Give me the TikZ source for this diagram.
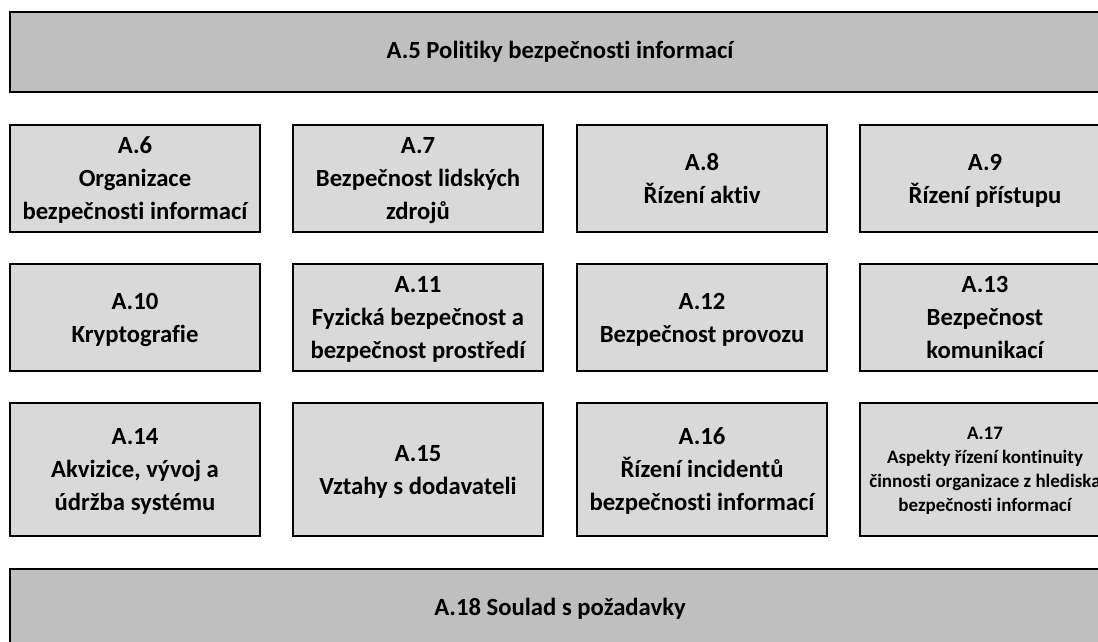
\documentclass[tikz,border=0pt]{standalone}
\usepackage{fontspec}
\setmainfont{Carlito}[Ligatures=CommonOff]
\definecolor{bannergray}{HTML}{BFBFBF}
\definecolor{ctrlgray}{HTML}{D9D9D9}

\begin{document}
\begin{tikzpicture}[x=1pt,y=-1pt,
  banner/.style={draw, line width=2.5pt, fill=bannergray, minimum width=1100pt,
    minimum height=80pt, inner sep=0pt, font=\bfseries\fontsize{24.7}{33}\selectfont},
  ctrl/.style={draw, line width=2.5pt, fill=ctrlgray, minimum width=250pt,
    minimum height=107pt, inner sep=0pt, align=center, text depth=0pt,
    font=\bfseries\fontsize{24.7}{33}\selectfont},
  tall/.style={minimum height=133pt}]
  \path[use as bounding box] (0,0) rectangle (1098,641);
  \clip (0,0) rectangle (1098,641);
  % top and bottom
  \node[banner] (a5) at (560,52) {A.5 Politiky bezpečnosti informací};
  \node[banner] (a18) at (560,609) {A.18 Soulad s požadavky};
  % first row
  \node[ctrl] (a6) at (135,178.5) {A.6\\Organizace\\bezpečnosti informací};
  \node[ctrl] (a7) at (418,178.5) {A.7\\Bezpečnost lidských\\zdrojů};
  \node[ctrl] (a8) at (702,178.5) {A.8\\Řízení aktiv};
  \node[ctrl] (a9) at (985,178.5) {A.9\\Řízení přístupu};
  % second row
  \node[ctrl] (a10) at (135,317.5) {A.10\\Kryptografie};
  \node[ctrl] (a11) at (418,317.5) {A.11\\Fyzická bezpečnost a\\bezpečnost prostředí};
  \node[ctrl] (a12) at (702,317.5) {A.12\\Bezpečnost provozu};
  \node[ctrl] (a13) at (985,317.5) {A.13\\Bezpečnost\\komunikací};
  % third row
  \node[ctrl,tall] (a14) at (135,469.5) {A.14\\Akvizice, vývoj a\\údržba systému};
  \node[ctrl,tall] (a15) at (418,469.5) {A.15\\Vztahy s dodavateli};
  \node[ctrl,tall] (a16) at (702,469.5) {A.16\\Řízení incidentů\\bezpečnosti informací};
  \node[ctrl,tall,font=\bfseries\fontsize{19}{24}\selectfont] (a17) at (985,469.5)
    {A.17\\Aspekty řízení kontinuity\\činnosti organizace z hlediska\\bezpečnosti informací};
\end{tikzpicture}
\end{document}
